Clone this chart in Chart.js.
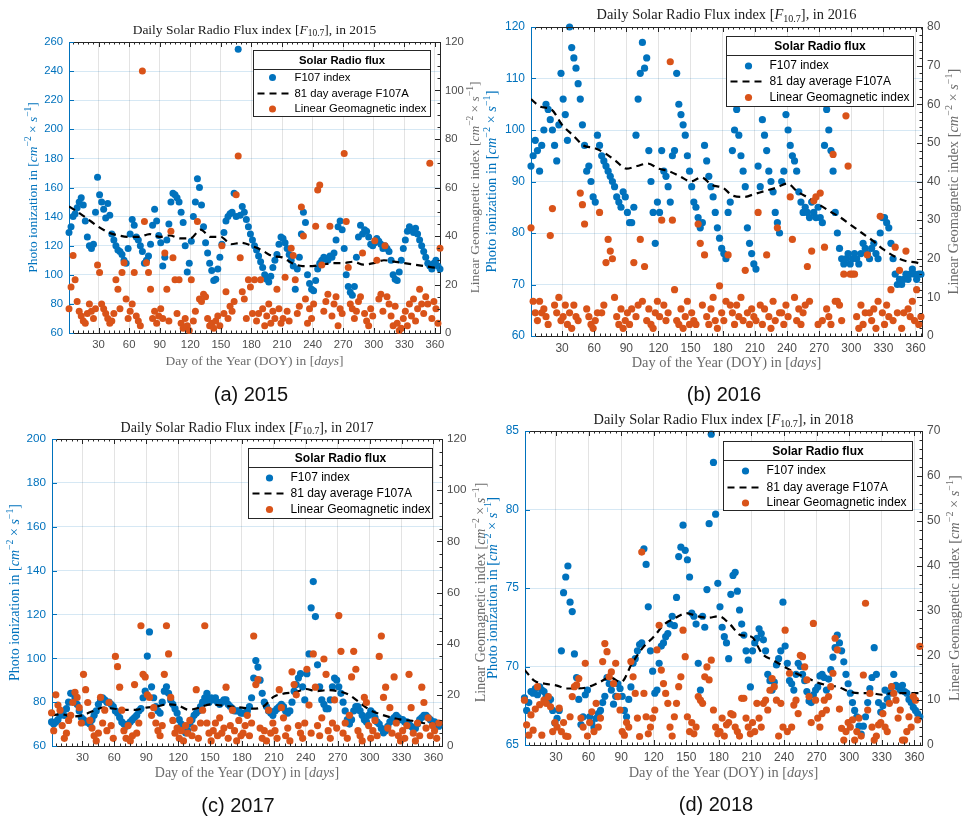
<!DOCTYPE html>
<html>
<head>
<meta charset="utf-8">
<script src="https://cdn.jsdelivr.net/npm/chart.js@4.4.1/dist/chart.umd.min.js"></script>
<style>
  body { margin: 0; background: #fff; width: 964px; height: 817px; position: relative; overflow: hidden; }
  canvas { position: absolute; }
  .cap { position: absolute; width: 200px; text-align: center; font: 20px "Liberation Sans", Arial, sans-serif; color: #111; line-height: 20px; }
</style>
</head>
<body>
<canvas id="p2015" width="482" height="400" style="left:0;top:0"></canvas>
<canvas id="p2016" width="482" height="400" style="left:482px;top:0"></canvas>
<canvas id="p2017" width="492" height="417" style="left:0;top:400px"></canvas>
<canvas id="p2018" width="482" height="417" style="left:482px;top:400px"></canvas>
<div class="cap" style="left:151px;top:384px">(a) 2015</div>
<div class="cap" style="left:624px;top:384px">(b) 2016</div>
<div class="cap" style="left:138px;top:795px">(c) 2017</div>
<div class="cap" style="left:616px;top:794px">(d) 2018</div>
<script>
// day of year (every second day)
const days = [
  1,3,5,7,9,11,13,15,17,19,21,23,25,27,29,
  31,33,35,37,39,41,43,45,47,49,51,53,55,57,59,
  61,63,65,67,69,71,73,75,77,79,81,83,85,87,89,
  91,93,95,97,99,101,103,105,107,109,111,113,115,117,119,
  121,123,125,127,129,131,133,135,137,139,141,143,145,147,149,
  151,153,155,157,159,161,163,165,167,169,171,173,175,177,179,
  181,183,185,187,189,191,193,195,197,199,201,203,205,207,209,
  211,213,215,217,219,221,223,225,227,229,231,233,235,237,239,
  241,243,245,247,249,251,253,255,257,259,261,263,265,267,269,
  271,273,275,277,279,281,283,285,287,289,291,293,295,297,299,
  301,303,305,307,309,311,313,315,317,319,321,323,325,327,329,
  331,333,335,337,339,341,343,345,347,349,351,353,355,357,359,
  361,363,365
];
const avgDays = [1,10,20,30,40,50,60,70,80,90,100,110,120,130,140,150,160,170,180,190,
  200,210,220,230,240,250,260,270,280,290,300,310,320,330,340,350,360,365];
const xTicks = [30,60,90,120,150,180,210,240,270,300,330,360];

// 2015
const f107_2015 = [
  129,133,140,142,146,150,153,148,137,126,120,118,121,143,167,
  155,150,145,139,149,141,128,124,120,117,116,114,110,108,118,
  128,138,134,126,124,120,116,108,110,113,121,134,145,137,127,
  122,106,112,124,135,150,156,155,153,150,143,136,120,102,108,
  123,140,150,166,160,148,133,122,115,108,103,96,97,104,112,
  121,129,137,140,142,143,156,140,255,141,147,143,138,133,128,
  124,120,117,113,109,105,100,97,95,99,105,110,114,121,126,
  125,122,118,114,110,106,90,104,112,128,143,136,100,94,90,
  89,96,104,108,110,112,111,110,113,112,115,124,133,137,131,
  118,100,92,88,86,92,112,126,134,128,131,130,126,121,120,
  122,125,123,121,118,120,118,116,110,100,97,96,102,110,118,
  124,130,133,131,129,132,128,124,120,116,112,108,106,104,108,
  110,106,104
];
const avg_2015 = [147,143,138,133,129,127,126,126,128,126,127,125,125,131,126,126,121,122,120,117,
  113,112,108,106,106,107,108,108,109,107,108,110,109,108,107,106,105,105];
const ap_2015 = [
  10,19,32,22,13,9,7,5,4,8,12,9,6,10,28,
  25,12,10,8,6,4,5,8,22,18,10,25,29,14,6,
  9,12,25,7,5,3,108,46,29,25,18,6,9,4,7,
  10,6,33,18,5,42,31,22,8,22,4,2,6,3,1,
  22,5,9,46,14,13,16,15,6,3,4,2,5,7,3,
  36,8,17,6,11,9,13,57,73,31,17,14,6,22,19,
  8,22,5,8,22,10,3,7,12,4,9,6,18,10,4,
  6,23,9,5,35,32,22,8,11,52,40,14,4,10,6,
  12,44,59,61,28,9,13,16,44,7,12,15,3,10,8,
  74,46,27,12,10,6,9,13,15,33,8,5,3,10,7,
  38,30,14,16,9,36,15,12,7,3,11,4,1,2,6,
  9,3,12,7,14,5,10,18,12,8,15,12,70,6,13,
  10,4,35
];
const yLeft2015 = [60,80,100,120,140,160,180,200,220,240,260];
const yRight2015 = [0,20,40,60,80,100,120];

// 2016
const f107_2016 = [
  93,95,98,96,92,97,100,105,104,102,100,97,94,101,111,
  106,103,98,120,116,114,112,109,106,101,97,92,93,90,87,
  86,99,97,95,94,93,92,91,90,89,87,86,85,88,87,
  84,82,82,85,99,106,111,117,112,114,96,90,84,78,86,
  84,96,92,91,89,86,95,96,111,105,103,101,99,95,92,
  89,86,85,83,81,82,97,94,91,89,87,84,81,79,77,
  76,75,84,86,96,100,104,99,95,92,89,81,78,76,74,
  73,93,89,102,99,96,92,90,88,84,82,80,90,92,103,
  100,97,95,94,92,88,86,84,85,84,83,86,84,83,85,
  83,82,97,104,100,96,92,84,80,77,75,74,75,76,74,
  75,76,75,74,76,78,77,76,75,77,78,76,75,80,83,
  83,82,81,78,75,72,70,71,70,71,72,71,72,73,72,
  71,72,72
];
const avg_2016 = [106,104.5,104,101,99,97,96.5,95.5,94,92.5,93,93.5,92.5,92,91,90,90.8,89.3,88.8,87.2,
  87,87.6,88.2,88.8,89.6,88,86.8,85.5,84.2,83,81.5,80,78.5,76.8,75.5,74.6,74.3,74];
const ap_2016 = [
  28,9,6,4,9,6,7,5,3,26,33,8,6,10,4,
  5,8,3,6,2,8,5,4,37,34,29,7,5,3,2,
  4,6,32,6,8,19,25,22,20,10,5,3,7,2,4,
  6,3,7,19,5,8,25,9,18,4,7,3,2,6,9,
  5,30,8,4,6,71,30,12,4,3,7,2,5,9,3,
  6,4,3,29,24,8,21,5,3,7,10,4,2,13,6,
  4,9,21,8,6,3,8,5,10,4,17,6,3,7,5,
  4,32,8,3,7,21,5,2,9,4,28,6,6,3,8,
  5,36,25,10,4,7,3,6,8,18,9,22,35,36,3,
  37,4,23,7,5,3,47,9,9,8,4,16,57,44,16,
  16,16,5,2,8,3,6,21,6,4,7,2,9,31,6,
  3,8,5,12,4,23,6,17,2,6,22,7,5,9,4,
  12,3,5
];
const yLeft2016 = [60,70,80,90,100,110,120];
const yRight2016 = [0,10,20,30,40,50,60,70,80];

// 2017
const f107_2017 = [
  71,70,71,72,74,75,74,77,80,84,84,82,79,76,73,
  72,71,71,70,72,74,76,79,81,82,81,80,80,79,78,
  76,75,73,71,70,69,70,71,72,73,74,76,77,82,85,
  101,112,87,82,78,76,75,80,85,87,84,81,79,77,75,
  72,70,68,66,67,70,72,74,75,76,78,80,82,84,80,
  82,81,82,80,79,80,81,81,79,78,77,76,76,76,75,
  75,75,76,78,82,91,99,96,90,84,80,78,76,75,74,
  76,77,78,79,78,76,75,76,80,85,88,91,93,87,81,
  93,102,123,135,119,97,87,81,79,77,77,81,87,91,90,
  87,84,80,76,72,70,72,76,78,78,76,74,72,71,74,
  76,75,73,71,70,68,66,67,69,71,72,73,74,73,72,
  72,71,71,70,69,68,68,70,72,73,74,74,73,72,71,
  71,70,69
];
const avg_2017 = [74,74.5,73.5,74,76,77.5,77,76.5,76.5,77.5,78,79,78.5,76.5,77.5,79,78.5,78,77.5,77,
  78,82.5,84,84.5,86,85,85.5,85,83.5,80,76.5,74.5,73,72,71.5,70.5,70,69.5];
const ap_2017 = [
  13,6,20,16,14,8,3,5,10,12,17,21,19,15,9,
  28,22,17,10,7,4,2,5,19,9,14,6,17,8,3,
  35,31,23,14,6,3,8,2,4,24,5,9,47,28,27,
  20,19,12,15,9,6,4,8,28,47,36,19,10,5,7,
  3,6,2,8,5,10,4,7,22,3,9,14,47,9,5,
  2,6,9,4,11,5,7,23,3,8,14,6,2,10,4,
  5,8,12,4,9,43,24,26,7,3,6,2,14,5,9,
  6,3,22,15,11,4,7,2,29,24,20,8,5,3,9,
  30,16,5,36,23,8,4,11,34,28,6,3,9,18,7,
  51,37,5,9,3,12,27,37,30,6,4,2,19,17,8,
  3,6,10,4,35,43,19,23,7,15,5,27,9,4,2,
  6,3,8,28,15,5,2,9,4,23,17,7,11,4,8,
  6,3,9
];
const yLeft2017 = [60,80,100,120,140,160,180,200];
const yRight2017 = [0,20,40,60,80,100,120];

// 2018
const f107_2018 = [
  68,67.2,67.7,68.4,68.3,68.6,68.2,68.7,68.5,68.4,68.1,67.7,67.9,67.2,66.4,
  66.7,67.2,71,74.7,75.7,76.4,74.1,73.5,70.8,69.3,67.9,66.3,66.8,68.2,68.5,
  66.8,66.4,66.1,66.7,67,67.2,67.7,68.1,69.3,68.9,68.5,67.6,68.1,68.9,68.6,
  68.1,67.2,66.8,67.9,68.7,70.2,70.5,71,71.4,71.5,77.5,76.5,73.8,71,69.7,
  68.3,68.5,70.2,71.3,71.5,71.9,72.1,72.7,73.2,72.6,74.4,77,77.6,79,77.4,
  76.8,75.7,73.4,73.2,72.7,70.2,68.5,73.2,72.5,74.9,79.1,84.8,83,79.7,75.3,
  73.8,72.5,71.9,71.5,70.5,74.6,75.8,76,74.8,73.6,72.7,72,71,70.4,68.7,
  71,71.5,71.8,72.4,72.1,71.7,71,69.5,69.1,68.5,69,70.1,70.5,71,74.1,
  71.3,70.2,69.1,68.9,68.5,69.5,70.2,70,69.5,69.1,68.4,67.8,67.7,68.2,68.5,
  68.7,69.4,69.5,69.3,68.5,69.2,69.8,70.6,71.2,72,71.5,71,70.3,69.5,68.9,
  68.3,67.7,67.2,66.8,66.2,65.7,66.2,66.8,67.7,68.6,69.3,71.2,69.5,67.7,67.1,
  67.5,68.5,67.9,68.3,68.7,69.5,68.8,68.7,68.5,68.8,68.4,68.3,67.9,67.7,67.4,
  67.2,67,66.8
];
const avg_2018 = [69.8,69.1,68.9,68.8,68.6,68.6,68.7,69,69.3,69,70.2,71.2,71.9,72.7,73.1,73.4,73.2,73.1,73.2,72.7,
  72,71.9,70.8,70.4,70,69.6,69.3,69,68.8,68.7,68.4,68.3,68.3,68.2,68.3,68.3,68.3,68.3];
const ap_2018 = [
  10,4.5,2.2,6.7,3.3,8,13,9,2.2,10,9.3,10.8,8.5,3,5,
  4,8.2,3,5,2,1.9,6.3,10.8,13,13.4,14.8,6,4,18.2,2,
  5,7.4,3,9.3,4,6,18.6,22.6,20.8,15.2,16.3,13.7,18.2,10.8,7.8,
  3,2.2,5,4,18.6,15.2,11.5,6,1.9,43,11.5,6.3,2.5,4,6,
  7.8,21.2,26.7,16.7,13.7,11.5,9.3,4,2,6.3,9.3,13,15.2,25.6,19.7,
  6.3,3,5,2.5,4,10.8,10,9.3,15.2,17.4,14.5,18.9,7.8,4,2.5,
  3,6,2,4.5,5,7,6.7,4,3,2,10.4,10.4,6,4,2.5,
  5,3,9.3,6,4,9.3,10,7.8,12.2,14.8,13,10,2,9.3,4,
  25.6,3,16,4,8.9,10,7,20,19.7,17.4,14.5,10.8,5,27.1,10,
  6,4,7,10,7.8,10.8,13,16,23.8,21.2,8,3.7,1.1,3,5,
  4,5.6,1.1,3,6,2,15.6,31.6,7.8,11.5,4,1.1,2,4.5,5,
  7,4,3,9.3,13,11.5,10,6,7.8,1.1,1.1,3,6.3,4,10.8,
  10,5.6,22
];
const yLeft2018 = [65,70,75,80,85];
const yRight2018 = [0,10,20,30,40,50,60,70];

const BLUE = '#0072BD', ORANGE = '#D95319';
const SANS = '"Liberation Sans", Arial, Helvetica, sans-serif';
const SERIF = '"Liberation Serif", "Times New Roman", serif';

function pts(xs, ys) {
  return ys.map((y, i) => ({ x: xs[i], y: y }));
}

// text with italic / sub / superscript pieces, centred on (x, y)
function drawRich(ctx, parts, x, y, size, color, rot) {
  const fontOf = p => {
    const small = p[1] === 'sup' || p[1] === 'sub';
    const it = p[1] === 'i' ? 'italic ' : '';
    return it + (small ? size * 0.7 : size) + 'px ' + SERIF;
  };
  ctx.save();
  ctx.translate(x, y);
  ctx.rotate(rot);
  let total = 0;
  parts.forEach(p => { ctx.font = fontOf(p); total += ctx.measureText(p[0]).width; });
  let cx = -total / 2;
  ctx.textBaseline = 'middle';
  ctx.textAlign = 'left';
  ctx.fillStyle = color;
  parts.forEach(p => {
    ctx.font = fontOf(p);
    const dy = p[1] === 'sup' ? -size * 0.35 : (p[1] === 'sub' ? size * 0.28 : 0);
    ctx.fillText(p[0], cx, dy);
    cx += ctx.measureText(p[0]).width;
  });
  ctx.restore();
}

const unitParts = [['cm', 'i'], ['\u22122', 'sup'], [' \u00d7 ', ''], ['s', 'i'], ['\u22121', 'sup'], [']', '']];

function decor(p) {
  return {
    id: 'decor' + p.year,
    afterDraw(chart) {
      const ctx = chart.ctx, ca = chart.chartArea;
      const sx = chart.scales.x, yl = chart.scales.yL, yr = chart.scales.yR;
      ctx.save();
      ctx.lineWidth = 1;
      // top frame line
      ctx.strokeStyle = '#262626';
      ctx.beginPath();
      ctx.moveTo(ca.left, ca.top + 0.5); ctx.lineTo(ca.right, ca.top + 0.5);
      ctx.stroke();
      // inward ticks on bottom / top
      ctx.beginPath();
      for (let d = 5; d <= sx.max; d += 5) {
        const px = Math.round(sx.getPixelForValue(d)) + 0.5;
        if (px < ca.left || px > ca.right) continue;
        const len = d % 30 === 0 ? 5 : 2.5;
        ctx.moveTo(px, ca.bottom); ctx.lineTo(px, ca.bottom - len);
        ctx.moveTo(px, ca.top); ctx.lineTo(px, ca.top + len);
      }
      // right axis ticks
      for (let v = yr.min; v <= yr.max + 1e-6; v += p.rMinor) {
        const py = Math.round(yr.getPixelForValue(v)) + 0.5;
        const major = p.yRight.some(t => Math.abs(t - v) < 1e-6);
        ctx.moveTo(ca.right, py); ctx.lineTo(ca.right - (major ? 5 : 2.5), py);
      }
      ctx.stroke();
      // left axis ticks
      ctx.strokeStyle = BLUE;
      ctx.beginPath();
      p.yLeft.forEach(v => {
        const py = Math.round(yl.getPixelForValue(v)) + 0.5;
        ctx.moveTo(ca.left, py); ctx.lineTo(ca.left + 5, py);
      });
      ctx.stroke();

      // titles
      const midX = (ca.left + ca.right) / 2, midY = (ca.top + ca.bottom) / 2;
      drawRich(ctx, [['Daily Solar Radio Flux index [', ''], ['F', 'i'], ['10.7', 'sub'], ['], in ' + p.year, '']],
        midX, p.titleY, p.fs, '#1a1a1a', 0);
      drawRich(ctx, [['Day of the Year (DOY) in [', ''], ['days', 'i'], [']', '']],
        midX, p.xTitleY, p.fs, '#6b6b6b', 0);
      drawRich(ctx, [['Photo ionization in [', '']].concat(unitParts),
        p.leftTitleX, midY, p.fs, BLUE, -Math.PI / 2);
      drawRich(ctx, [['Linear Geomagnetic index [', '']].concat(unitParts),
        p.rightTitleX, midY, p.fs, '#6b6b6b', -Math.PI / 2);

      // legend box
      const L = p.legend;
      const x0 = Math.round(ca.right - L.dx - L.w) + 0.5, y0 = Math.round(ca.top + L.dy) + 0.5;
      ctx.fillStyle = '#fff';
      ctx.fillRect(x0, y0, L.w, L.h);
      ctx.strokeStyle = '#262626';
      ctx.strokeRect(x0, y0, L.w, L.h);
      ctx.beginPath();
      ctx.moveTo(x0, y0 + L.div); ctx.lineTo(x0 + L.w, y0 + L.div);
      ctx.stroke();
      ctx.fillStyle = '#000';
      ctx.textBaseline = 'middle';
      ctx.textAlign = 'center';
      ctx.font = 'bold ' + L.fs + 'px ' + SANS;
      ctx.fillText('Solar Radio flux', x0 + L.w / 2, y0 + L.div / 2 + 0.5);
      ctx.textAlign = 'left';
      ctx.font = L.fs + 'px ' + SANS;
      const ds = chart.data.datasets;
      const rows = [ds[2], ds[1], ds[0]];
      rows.forEach((d, i) => {
        const ry = y0 + L.rows[i];
        if (d.type === 'line') {
          ctx.save();
          ctx.strokeStyle = '#000';
          ctx.lineWidth = 2.2;
          ctx.setLineDash([7, 5]);
          ctx.beginPath();
          ctx.moveTo(x0 + 4, ry); ctx.lineTo(x0 + 36, ry);
          ctx.stroke();
          ctx.restore();
        } else {
          ctx.fillStyle = d.pointBackgroundColor;
          ctx.beginPath();
          ctx.arc(x0 + L.mx, ry, p.r, 0, Math.PI * 2);
          ctx.fill();
        }
        ctx.fillStyle = '#000';
        ctx.fillText(d.label, x0 + L.tx, ry);
      });
      ctx.restore();
    }
  };
}

function makePanel(id, p) {
  const tickFont = { family: SANS, size: p.tickFs };
  return new Chart(document.getElementById(id), {
    type: 'scatter',
    data: {
      datasets: [
        { label: 'Linear Geomagnetic index', data: pts(days, p.ap), yAxisID: 'yR',
          pointBackgroundColor: ORANGE, backgroundColor: ORANGE, pointBorderWidth: 0,
          pointRadius: p.r, order: 0, clip: false },
        { type: 'line', label: '81 day average F107A', data: pts(avgDays, p.avg), yAxisID: 'yL',
          borderColor: '#000', borderWidth: 2.2, borderDash: [7, 5], pointRadius: 0, fill: false,
          cubicInterpolationMode: 'monotone', order: 1 },
        { label: 'F107 index', data: pts(days, p.f107), yAxisID: 'yL',
          pointBackgroundColor: BLUE, backgroundColor: BLUE, pointBorderWidth: 0,
          pointRadius: p.r, order: 2, clip: false }
      ]
    },
    options: {
      responsive: false,
      animation: false,
      devicePixelRatio: 1,
      events: [],
      layout: { padding: { top: p.padTop, left: 0, right: 0, bottom: 0 } },
      plugins: { legend: { display: false }, title: { display: false }, tooltip: { enabled: false } },
      scales: {
        x: {
          type: 'linear', position: 'bottom', min: p.xMin, max: p.xMax,
          afterBuildTicks: s => { s.ticks = xTicks.map(v => ({ value: v })); },
          afterFit: s => { s.height = p.hB; },
          grid: { color: '#e3e3e3', lineWidth: 1, drawTicks: false },
          border: { color: '#262626', width: 1 },
          ticks: { color: '#4d4d4d', font: tickFont, padding: 5, maxRotation: 0, autoSkip: false }
        },
        yL: {
          type: 'linear', position: 'left', min: p.yLeft[0], max: p.yLeft[p.yLeft.length - 1],
          afterBuildTicks: s => { s.ticks = p.yLeft.map(v => ({ value: v })); },
          afterFit: s => { s.width = p.wL; },
          grid: { color: 'rgba(0,114,189,0.16)', lineWidth: 1, drawTicks: false },
          border: { color: BLUE, width: 1 },
          ticks: { color: BLUE, font: tickFont, padding: 6 }
        },
        yR: {
          type: 'linear', position: 'right', min: p.yRight[0], max: p.yRight[p.yRight.length - 1],
          afterBuildTicks: s => { s.ticks = p.yRight.map(v => ({ value: v })); },
          afterFit: s => { s.width = p.wR; },
          grid: { drawOnChartArea: false, drawTicks: false },
          border: { color: '#262626', width: 1 },
          ticks: { color: '#4d4d4d', font: tickFont, padding: 5 }
        }
      }
    },
    plugins: [decor(p)]
  });
}

makePanel('p2015', {
  year: 2015, f107: f107_2015, avg: avg_2015, ap: ap_2015, yLeft: yLeft2015, yRight: yRight2015,
  xMin: 1, xMax: 365, padTop: 42, wL: 69, wR: 42, hB: 67, rMinor: 5, r: 3.5,
  fs: 13.5, tickFs: 11.3, titleY: 30, xTitleY: 361, leftTitleX: 33, rightTitleX: 475,
  legend: { w: 177, h: 66, dx: 10, dy: 8, div: 19, rows: [27, 43, 58.5], mx: 19, tx: 41, fs: 11.3 }
});
makePanel('p2016', {
  year: 2016, f107: f107_2016, avg: avg_2016, ap: ap_2016, yLeft: yLeft2016, yRight: yRight2016,
  xMin: 1, xMax: 366, padTop: 27, wL: 49, wR: 42, hB: 64, rMinor: 2, r: 3.6,
  fs: 14.4, tickFs: 12, titleY: 15, xTitleY: 363, leftTitleX: 10, rightTitleX: 472,
  legend: { w: 187, h: 70, dx: 9, dy: 9, div: 19, rows: [29.5, 45, 61], mx: 22, tx: 43, fs: 12 }
});
makePanel('p2017', {
  year: 2017, f107: f107_2017, avg: avg_2017, ap: ap_2017, yLeft: yLeft2017, yRight: yRight2017,
  xMin: 1.4, xMax: 368, padTop: 39, wL: 52, wR: 50, hB: 71, rMinor: 5, r: 3.6,
  fs: 14, tickFs: 11.7, titleY: 28, xTitleY: 373, leftTitleX: 15, rightTitleX: 481,
  legend: { w: 184, h: 70, dx: 10, dy: 9, div: 19, rows: [29.5, 45, 61], mx: 21, tx: 42, fs: 12 }
});
makePanel('p2018', {
  year: 2018, f107: f107_2018, avg: avg_2018, ap: ap_2018, yLeft: yLeft2018, yRight: yRight2018,
  xMin: 1.5, xMax: 367, padTop: 31, wL: 43, wR: 42, hB: 72, rMinor: 2, r: 3.6,
  fs: 14.4, tickFs: 12, titleY: 20, xTitleY: 373, leftTitleX: 11, rightTitleX: 473,
  legend: { w: 189, h: 69, dx: 10, dy: 10, div: 19, rows: [29.5, 46, 61.5], mx: 22, tx: 43, fs: 12 }
});
</script>
</body>
</html>
